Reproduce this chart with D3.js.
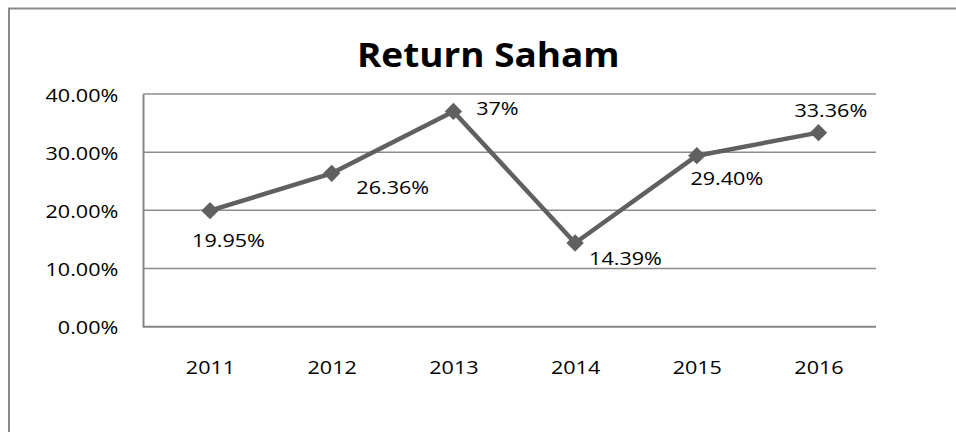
<!DOCTYPE html>
<html>
<head>
<meta charset="utf-8">
<script src="https://cdn.jsdelivr.net/npm/d3@7"></script>
<style>
  html, body { margin: 0; padding: 0; background: #fff; }
  svg { display: block; }
  text { font-family: "Open Sans", "Noto Sans", sans-serif; fill: #000; }
</style>
</head>
<body>
<svg id="chart" width="956" height="432"></svg>
<script>
// ---- data ----
const title = "Return Saham";
const categories = ["2011", "2012", "2013", "2014", "2015", "2016"];
const values = [0.1995, 0.2636, 0.37, 0.1439, 0.2940, 0.3336];
const valueLabels = ["19.95%", "26.36%", "37%", "14.39%", "29.40%", "33.36%"];
const yTicks = [0, 0.1, 0.2, 0.3, 0.4];
const yTickLabels = ["0.00%", "10.00%", "20.00%", "30.00%", "40.00%"];
// label placement offsets (text centre relative to the point), px
const labelDx = [18.5, 61, 44, 50.4, 30, 12.3];
const labelDy = [29.6, 14, -3.6, 15, 22.8, -22.5];

// ---- layout ----
const W = 956, H = 432;
const plot = { left: 143, right: 876, top: 94, bottom: 326.7 };
const FS = 18.6, SX = 1.16;       // body text size and horizontal stretch
const lineColor = "#606060";

const svg = d3.select("#chart");
svg.append("rect").attr("width", W).attr("height", H).attr("fill", "#fff");

// outer frame (extends past the image on right/bottom)
svg.append("rect")
  .attr("x", 9).attr("y", 8.5).attr("width", W + 20).attr("height", H + 20)
  .attr("fill", "none").attr("stroke", "#8a8a8a").attr("stroke-width", 2);

const x = d3.scalePoint().domain(categories).range([210, 818.5]);
const y = d3.scaleLinear().domain([0, 0.4]).range([plot.bottom, plot.top]);

// gridlines
svg.append("g").selectAll("line").data(yTicks.filter(d => d > 0)).join("line")
  .attr("x1", plot.left).attr("x2", plot.right)
  .attr("y1", d => y(d)).attr("y2", d => y(d))
  .attr("stroke", "#8c8c8c").attr("stroke-width", 1.5);

// left axis
const yAxis = svg.append("g").attr("transform", `translate(${plot.left},0)`)
  .call(d3.axisLeft(y).tickValues(yTicks).tickSize(0)
    .tickFormat((d, i) => yTickLabels[i]));
yAxis.select(".domain").attr("stroke", "#858585").attr("stroke-width", 2);
yAxis.selectAll("text")
  .attr("x", 0).attr("dy", null)
  .attr("transform", `translate(-24.7,7) scale(${SX},1)`)
  .attr("font-size", FS).attr("font-family", '"Open Sans", sans-serif')
  .attr("fill", "#000").attr("text-anchor", "end");

// bottom axis
const xAxis = svg.append("g").attr("transform", `translate(0,${plot.bottom})`)
  .call(d3.axisBottom(x).tickSize(0));
xAxis.select(".domain").attr("d", `M${plot.left},0H${plot.right}`)
  .attr("stroke", "#858585").attr("stroke-width", 2);
xAxis.selectAll("text")
  .attr("y", 0).attr("dy", null)
  .attr("transform", `translate(0,47.3) scale(${SX},1)`)
  .attr("font-size", FS).attr("font-family", '"Open Sans", sans-serif')
  .attr("fill", "#000").attr("text-anchor", "middle");

// title
svg.append("text")
  .attr("transform", `translate(488.3,66.7) scale(1.10,1)`)
  .attr("text-anchor", "middle")
  .attr("font-size", 33.6).attr("font-weight", "bold")
  .text(title);

// line
const pts = categories.map((c, i) => ({ c, v: values[i], i }));
svg.append("path")
  .datum(pts)
  .attr("fill", "none").attr("stroke", lineColor).attr("stroke-width", 4.5)
  .attr("stroke-linejoin", "round")
  .attr("d", d3.line().x(d => x(d.c)).y(d => y(d.v)));

// diamond markers
svg.append("g").selectAll("path").data(pts).join("path")
  .attr("transform", d => `translate(${x(d.c)},${y(d.v)}) rotate(45)`)
  .attr("d", d3.symbol().type(d3.symbolSquare).size(150)())
  .attr("fill", lineColor);

// data labels
svg.append("g").selectAll("text").data(pts).join("text")
  .attr("transform", d => `translate(${x(d.c) + labelDx[d.i]},${y(d.v) + labelDy[d.i] + 6.65}) scale(${SX},1)`)
  .attr("text-anchor", "middle")
  .attr("font-size", FS)
  .text(d => valueLabels[d.i]);
</script>
</body>
</html>
